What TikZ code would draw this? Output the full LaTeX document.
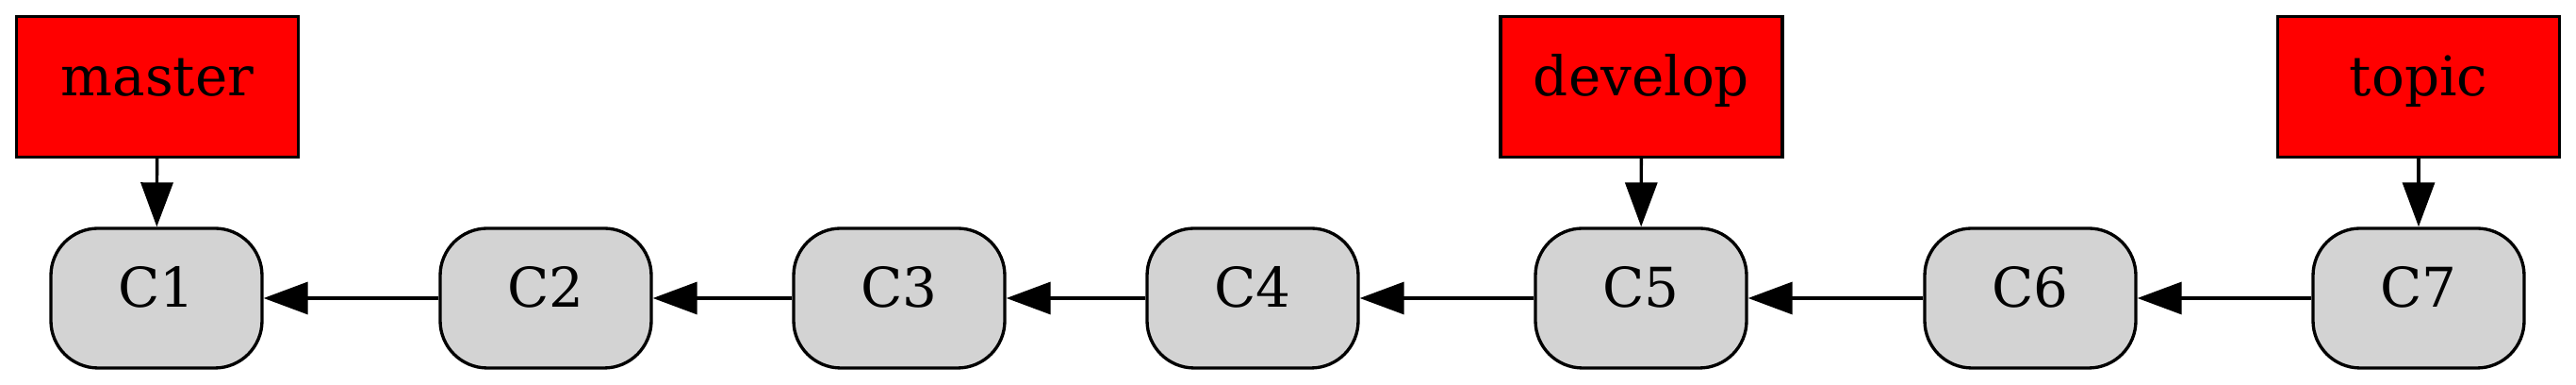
\documentclass[tikz,border=0pt]{standalone}
\usepackage{fontspec}
\setmainfont{DejaVu Serif}
\usetikzlibrary{arrows.meta}

\begin{document}
\begin{tikzpicture}[
  line width=0.95pt,
  >={Triangle[length=4.7mm,width=3.4mm]},
  commit/.style={draw,fill={rgb,255:red,211;green,211;blue,211},rounded corners=0.5cm,
    minimum width=2.24cm,minimum height=1.48cm,inner sep=0pt,
    font=\fontsize{16.5}{20}\selectfont,text height=0.75em,text depth=0.2em},
  branch/.style={draw,fill=red,minimum width=2.99cm,minimum height=1.49cm,inner sep=0pt,
    font=\fontsize{16.5}{20}\selectfont,text height=0.75em,text depth=0.2em}]

\useasboundingbox (0,0) rectangle (27.33,4.08);

\node[commit] (1) at (1.66,0.92) {C1};
\node[commit] (2) at (5.79,0.92) {C2};
\node[commit] (3) at (9.54,0.92) {C3};
\node[commit] (4) at (13.29,0.92) {C4};
\node[commit] (5) at (17.41,0.92) {C5};
\node[commit] (6) at (21.54,0.92) {C6};
\node[commit] (7) at (25.66,0.92) {C7};

\node[branch] (master) at (1.67,3.163) {master};
\node[branch] (develop) at (17.415,3.163) {develop};
\node[branch] (topic) at (25.66,3.163) {topic};

\draw[->] (2) edge (1);
\draw[->] (3) edge (2);
\draw[->] (4) edge (3);
\draw[->] (5) edge (4);
\draw[->] (6) edge (5);
\draw[->] (7) edge (6);

\draw[->] (master) edge (1);
\draw[->] (develop) edge (5);
\draw[->] (topic) edge (7);

\end{tikzpicture}
\end{document}
